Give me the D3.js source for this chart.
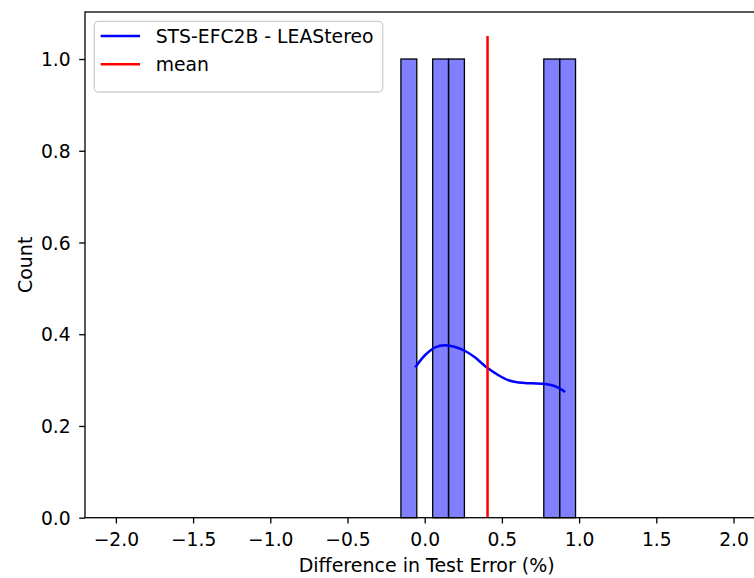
<!DOCTYPE html>
<html>
<head>
<meta charset="utf-8">
<script src="https://cdn.jsdelivr.net/npm/d3@7"></script>
<style>
  html, body { margin: 0; padding: 0; background: #fff; }
  svg { display: block; }
  text { font-family: "DejaVu Sans", sans-serif; fill: #000; }
</style>
</head>
<body>
<svg id="chart" width="754" height="578"></svg>
<script>
// ---- data ----
const binStart = -0.154;
const binWidth = 0.1028;
const binCounts = [1, 0, 1, 1, 0, 0, 0, 0, 0, 1, 1];
const meanValue = 0.407;
const kdeX = [-0.0615, 0.0032, 0.068, 0.1328, 0.1975, 0.2623, 0.3271, 0.4028, 0.478, 0.5427, 0.6075, 0.6943, 0.7804, 0.8452, 0.91];
const kdeY = [0.3277, 0.3547, 0.3714, 0.3758, 0.3721, 0.3634, 0.349, 0.3272, 0.3105, 0.2996, 0.2946, 0.293, 0.2915, 0.2865, 0.2741];
const xTicks = [-2.0, -1.5, -1.0, -0.5, 0.0, 0.5, 1.0, 1.5, 2.0];
const yTicks = [0.0, 0.2, 0.4, 0.6, 0.8, 1.0];
const legendLabels = ["STS-EFC2B - LEAStereo", "mean"];
const xLabel = "Difference in Test Error (%)";
const yLabel = "Count";

// ---- layout ----
const L = 85, R = 764.4, T = 12, B = 517.7;
const svg = d3.select("#chart");
const x = d3.scaleLinear().domain([-2.2, 2.2]).range([L, R]);
const y = d3.scaleLinear().domain([0, 1.1025]).range([B, T]);

const bins = binCounts.map((c, i) => ({
  x0: binStart + i * binWidth,
  x1: binStart + (i + 1) * binWidth,
  count: c
})).filter(b => b.count > 0);

// bars
svg.append("g").selectAll("rect").data(bins).join("rect")
  .attr("x", d => x(d.x0))
  .attr("y", d => y(d.count))
  .attr("width", d => x(d.x1) - x(d.x0))
  .attr("height", d => y(0) - y(d.count))
  .attr("fill", "rgba(0,0,255,0.5)")
  .attr("stroke", "#000")
  .attr("stroke-width", 1.3);

// kde line
const kde = kdeX.map((v, i) => [v, kdeY[i]]);
svg.append("path")
  .datum(kde)
  .attr("d", d3.line().x(d => x(d[0])).y(d => y(d[1])).curve(d3.curveCatmullRom))
  .attr("fill", "none")
  .attr("stroke", "#0000ff")
  .attr("stroke-width", 2.5);

// mean line
svg.append("line")
  .attr("x1", x(meanValue)).attr("x2", x(meanValue))
  .attr("y1", y(0)).attr("y2", y(1.05))
  .attr("stroke", "#ff0000")
  .attr("stroke-width", 2.5);

// axes
const xAxis = d3.axisBottom(x).tickValues(xTicks).tickSize(5.8)
  .tickFormat(d => d3.format(".1f")(d).replace("-", "\u2212"));
const gx = svg.append("g").attr("transform", `translate(0,${B})`).call(xAxis);
gx.select(".domain").remove();
gx.selectAll("text").attr("font-size", "18.7px").attr("font-family", "DejaVu Sans")
  .attr("y", 28).attr("dy", 0);
gx.selectAll("line").attr("stroke-width", 1.3);

const yAxis = d3.axisLeft(y).tickValues(yTicks).tickSize(5.8)
  .tickFormat(d3.format(".1f"));
const gy = svg.append("g").attr("transform", `translate(${L},0)`).call(yAxis);
gy.select(".domain").remove();
gy.selectAll("text").attr("font-size", "18.7px").attr("font-family", "DejaVu Sans")
  .attr("x", -14.3).attr("dy", "0.35em");
gy.selectAll("line").attr("stroke-width", 1.3);

// spines
svg.append("rect")
  .attr("x", L).attr("y", T).attr("width", R - L).attr("height", B - T)
  .attr("fill", "none").attr("stroke", "#000").attr("stroke-width", 1.3);

// axis labels
svg.append("text").attr("x", (L + R) / 2 + 2).attr("y", 571.5)
  .attr("text-anchor", "middle").attr("font-size", "19px").text(xLabel);
svg.append("text").attr("transform", `translate(31.5,${(T + B) / 2}) rotate(-90)`)
  .attr("text-anchor", "middle").attr("font-size", "19px").text(yLabel);

// legend
const lg = svg.append("g");
lg.append("rect").attr("x", 94.3).attr("y", 21.3).attr("width", 288.4).attr("height", 70.7)
  .attr("rx", 4).attr("ry", 4)
  .attr("fill", "rgba(255,255,255,0.8)").attr("stroke", "#d0d0d0").attr("stroke-width", 1.3);
const legColors = ["#0000ff", "#ff0000"];
const legY = [36, 64.3];
legendLabels.forEach((t, i) => {
  lg.append("line").attr("x1", 100.7).attr("x2", 140).attr("y1", legY[i]).attr("y2", legY[i])
    .attr("stroke", legColors[i]).attr("stroke-width", 2.5);
  lg.append("text").attr("x", 155.7).attr("y", legY[i] + 7).attr("font-size", "18.8px").text(t);
});
</script>
</body>
</html>
